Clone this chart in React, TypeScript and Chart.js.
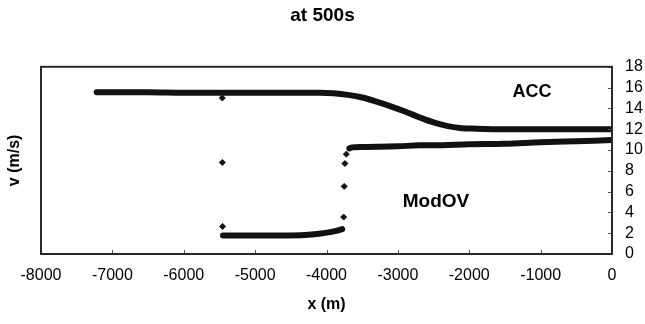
import { useEffect, useRef } from "react";
import { Chart, registerables } from "chart.js";

Chart.register(...registerables);

const TITLE = "at 500s";
const X_TITLE = "x (m)";
const Y_TITLE = "v (m/s)";

const X_TICKS = [-8000, -7000, -6000, -5000, -4000, -3000, -2000, -1000, 0];
const Y_TICKS = [0, 2, 4, 6, 8, 10, 12, 14, 16, 18];

// ACC vehicle speeds
const ACC_X = [-7220, -6500, -6000, -5000, -4500, -4100, -3900, -3700, -3500, -3300, -3100, -2900, -2700, -2500, -2300, -2100, -1900, -1500, -1000, -500, 0];
const ACC_V = [15.55, 15.55, 15.5, 15.5, 15.5, 15.5, 15.45, 15.3, 15.05, 14.65, 14.2, 13.7, 13.15, 12.65, 12.3, 12.1, 12.05, 12.0, 12.0, 12.0, 12.0];

// ModOV – slow platoon part
const MODOV_LOW_X = [-5450, -5000, -4600, -4300, -4100, -3950, -3850, -3780];
const MODOV_LOW_V = [1.78, 1.78, 1.78, 1.82, 1.95, 2.1, 2.25, 2.4];

// ModOV – fast part
const MODOV_HIGH_X = [-3680, -3640, -3500, -3000, -2700, -2500, -2000, -1500, -1000, -500, 0];
const MODOV_HIGH_V = [10.15, 10.25, 10.3, 10.35, 10.45, 10.45, 10.55, 10.6, 10.75, 10.85, 10.95];

// ModOV – isolated points
const MODOV_PTS_X = [-5460, -5460, -5455, -3760, -3752, -3742, -3722];
const MODOV_PTS_V = [15.0, 8.8, 2.65, 3.55, 6.5, 8.7, 9.6];

const LABEL_ACC = "ACC";
const LABEL_MODOV = "ModOV";
const LABEL_ACC_AT = { x: -1121, y: 15.56 };
const LABEL_MODOV_AT = { x: -2466, y: 5.07 };

const FONT = "'Liberation Sans', Arial, Helvetica, sans-serif";

const toPts = (xs: number[], ys: number[]) => xs.map((x, i) => ({ x, y: ys[i] }));

export default function App() {
  const ref = useRef<HTMLCanvasElement | null>(null);

  useEffect(() => {
    if (!ref.current) return;

    const framePlugin = {
      id: "frame",
      afterDatasetsDraw(chart: any) {
        const { ctx, chartArea: a, scales } = chart;
        ctx.save();
        ctx.strokeStyle = "#555";
        ctx.lineWidth = 1;
        ctx.beginPath();
        for (const v of X_TICKS) {
          const px = Math.round(scales.x.getPixelForValue(v)) + 0.5;
          ctx.moveTo(px, a.bottom);
          ctx.lineTo(px, a.bottom - 4);
        }
        for (const v of Y_TICKS) {
          const py = Math.round(scales.y.getPixelForValue(v)) + 0.5;
          ctx.moveTo(a.right, py);
          ctx.lineTo(a.right - 4, py);
        }
        ctx.stroke();
        ctx.strokeStyle = "#2a2a2a";
        ctx.lineWidth = 2;
        ctx.strokeRect(a.left, a.top, a.right - a.left, a.bottom - a.top);

        ctx.fillStyle = "#000";
        ctx.font = `bold 18px ${FONT}`;
        ctx.textAlign = "center";
        ctx.textBaseline = "middle";
        ctx.fillText(LABEL_ACC, scales.x.getPixelForValue(LABEL_ACC_AT.x), scales.y.getPixelForValue(LABEL_ACC_AT.y));
        ctx.font = `bold 19px ${FONT}`;
        ctx.fillText(LABEL_MODOV, scales.x.getPixelForValue(LABEL_MODOV_AT.x), scales.y.getPixelForValue(LABEL_MODOV_AT.y));
        ctx.restore();
      },
    };

    const lineStyle = {
      showLine: true,
      borderColor: "#111",
      borderWidth: 6,
      borderCapStyle: "round",
      borderJoinStyle: "round",
      pointRadius: 0,
      cubicInterpolationMode: "monotone",
    };

    const chart = new Chart(ref.current, {
      type: "scatter",
      data: {
        datasets: [
          { label: "ACC", data: toPts(ACC_X, ACC_V), ...lineStyle },
          { label: "ModOV low", data: toPts(MODOV_LOW_X, MODOV_LOW_V), ...lineStyle },
          { label: "ModOV high", data: toPts(MODOV_HIGH_X, MODOV_HIGH_V), ...lineStyle },
          {
            label: "ModOV points",
            data: toPts(MODOV_PTS_X, MODOV_PTS_V),
            showLine: false,
            pointStyle: "rectRot",
            pointRadius: 3,
            borderWidth: 1,
            borderColor: "#111",
            backgroundColor: "#111",
          },
        ],
      },
      options: {
        responsive: false,
        animation: false,
        layout: { padding: 0 },
        events: [],
        plugins: {
          legend: { display: false },
          tooltip: { enabled: false },
          title: {
            display: true,
            text: TITLE,
            color: "#000",
            font: { family: FONT, size: 19, weight: "bold" },
            padding: { top: 4, bottom: 40 },
          },
        },
        scales: {
          x: {
            type: "linear",
            position: "bottom",
            min: -8000,
            max: 0,
            afterBuildTicks: (s: any) => {
              s.ticks = X_TICKS.map((v) => ({ value: v }));
            },
            afterFit: (s: any) => {
              s.height = 70;
            },
            grid: { display: false, drawTicks: false, tickLength: 0 },
            border: { display: false },
            ticks: {
              color: "#000",
              font: { family: FONT, size: 16 },
              padding: 12,
              maxRotation: 0,
              autoSkip: false,
              callback: (v: any) => String(v),
            },
            title: {
              display: true,
              text: X_TITLE,
              color: "#000",
              font: { family: FONT, size: 16, weight: "bold" },
              padding: { top: 0, bottom: 10 },
            },
          },
          y: {
            type: "linear",
            position: "right",
            min: 0,
            max: 18,
            afterBuildTicks: (s: any) => {
              s.ticks = Y_TICKS.map((v) => ({ value: v }));
            },
            afterFit: (s: any) => {
              s.width = 33;
            },
            grid: { display: false, drawTicks: false, tickLength: 0 },
            border: { display: false },
            ticks: {
              color: "#000",
              font: { family: FONT, size: 16 },
              padding: 13,
              autoSkip: false,
              callback: (v: any) => String(v),
            },
          },
          yL: {
            type: "linear",
            position: "left",
            min: 0,
            max: 18,
            afterFit: (s: any) => {
              s.width = 41;
            },
            grid: { display: false, drawTicks: false, tickLength: 0 },
            border: { display: false },
            ticks: { display: false },
            title: {
              display: true,
              text: Y_TITLE,
              color: "#000",
              font: { family: FONT, size: 16, weight: "bold" },
              padding: { top: 5, bottom: 0 },
            },
          },
        },
      } as any,
      plugins: [framePlugin],
    });

    return () => chart.destroy();
  }, []);

  return (
    <div style={{ position: "fixed", left: 0, top: 0, width: 645, height: 324, background: "#fff" }}>
      <canvas ref={ref} width={645} height={324} style={{ width: 645, height: 324, display: "block" }} />
    </div>
  );
}
